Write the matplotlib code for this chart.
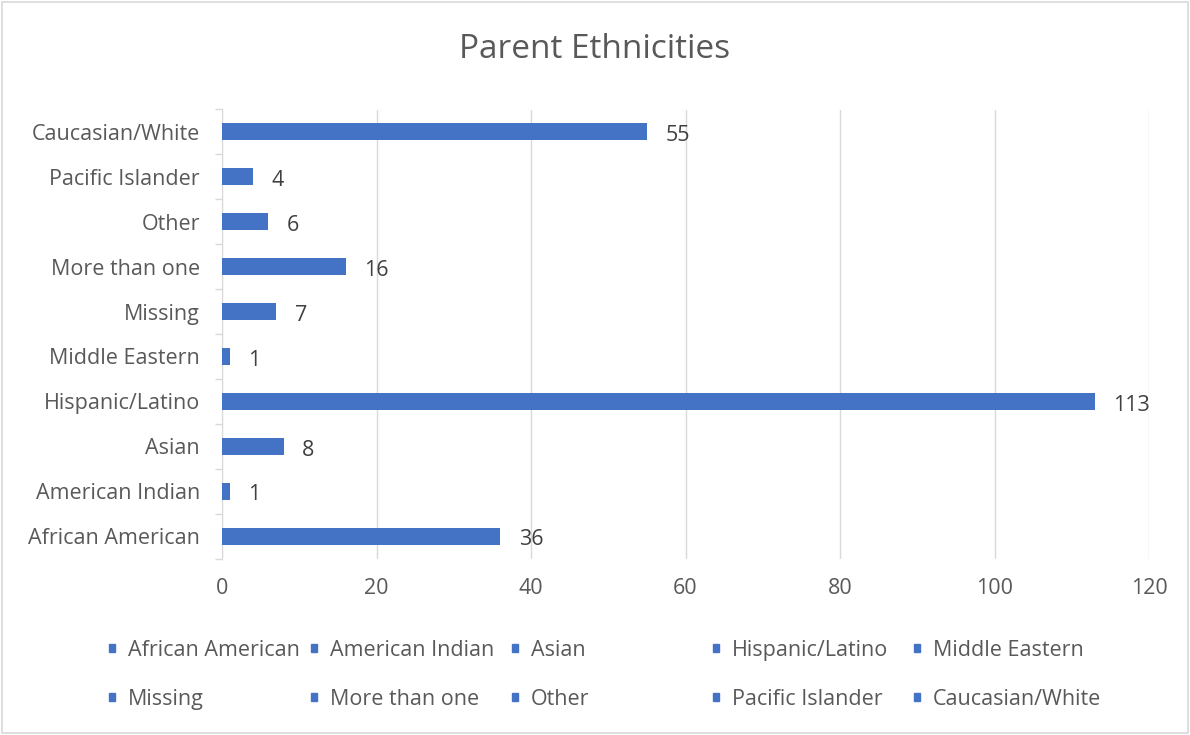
import matplotlib
matplotlib.use("Agg")
import matplotlib.pyplot as plt
from matplotlib.patches import Rectangle

categories = ["African American", "American Indian", "Asian", "Hispanic/Latino",
              "Middle Eastern", "Missing", "More than one", "Other",
              "Pacific Islander", "Caucasian/White"]
counts = [36, 1, 8, 113, 1, 7, 16, 6, 4, 55]
x_ticks = [0, 20, 40, 60, 80, 100, 120]

BAR = "#4472C4"
TEXT = "#595959"
GRID = "#D9D9D9"
FS = 15.5

plt.rcParams["font.family"] = ["Open Sans", "DejaVu Sans"]

W, H = 1190, 735
fig = plt.figure(figsize=(W / 100, H / 100), dpi=100)
ax = fig.add_axes([222 / W, 1 - 558.5 / H, (1149 - 222) / W, (558.5 - 109.5) / H])

ypos = list(range(len(categories)))
ax.barh(ypos, counts, height=0.38, color=BAR, zorder=3)
for y, v in zip(ypos, counts):
    ax.text(v + 2.4, y - 0.03, str(v), va="center_baseline", ha="left",
            fontsize=FS, color="#404040")

ax.set_xlim(0, 120)
ax.set_ylim(-0.5, len(categories) - 0.5)
ax.set_xticks(x_ticks)
ax.set_xticklabels([str(t) for t in x_ticks])
ax.set_yticks(ypos)
ax.set_yticklabels(categories)
ax.set_yticks([i - 0.5 for i in range(len(categories) + 1)], minor=True)
ax.tick_params(axis="y", which="major", length=0, pad=16, labelsize=FS, labelcolor=TEXT)
ax.tick_params(axis="y", which="minor", length=5, color=GRID, width=1)
ax.tick_params(axis="x", length=0, pad=14, labelsize=FS, labelcolor=TEXT)
ax.grid(axis="x", color=GRID, linewidth=1, zorder=0)
for side in ("top", "right", "bottom"):
    ax.spines[side].set_visible(False)
ax.spines["left"].set_color(GRID)

fig.text(0.5, 1 - 50 / H, "Parent Ethnicities", ha="center", va="center",
         fontsize=24, color=TEXT)

# legend laid out row by row, five entries per row
col_x = [112, 314, 515, 716, 917]
row_y = [648, 697]
for i, name in enumerate(categories):
    cx = col_x[i % 5]
    cy = row_y[i // 5]
    fig.patches.append(Rectangle(((cx - 3) / W, 1 - (cy + 4) / H), 6 / W, 8 / H,
                                 transform=fig.transFigure, color=BAR))
    fig.text((cx + 16) / W, 1 - cy / H, name, ha="left", va="center_baseline",
             fontsize=FS, color=TEXT)

# outer chart border
fig.patches.append(Rectangle((2 / W, 2 / H), (W - 4) / W, (H - 4) / H,
                             transform=fig.transFigure, fill=False,
                             edgecolor=GRID, linewidth=1.2))

fig.savefig("out.png", dpi=100)
